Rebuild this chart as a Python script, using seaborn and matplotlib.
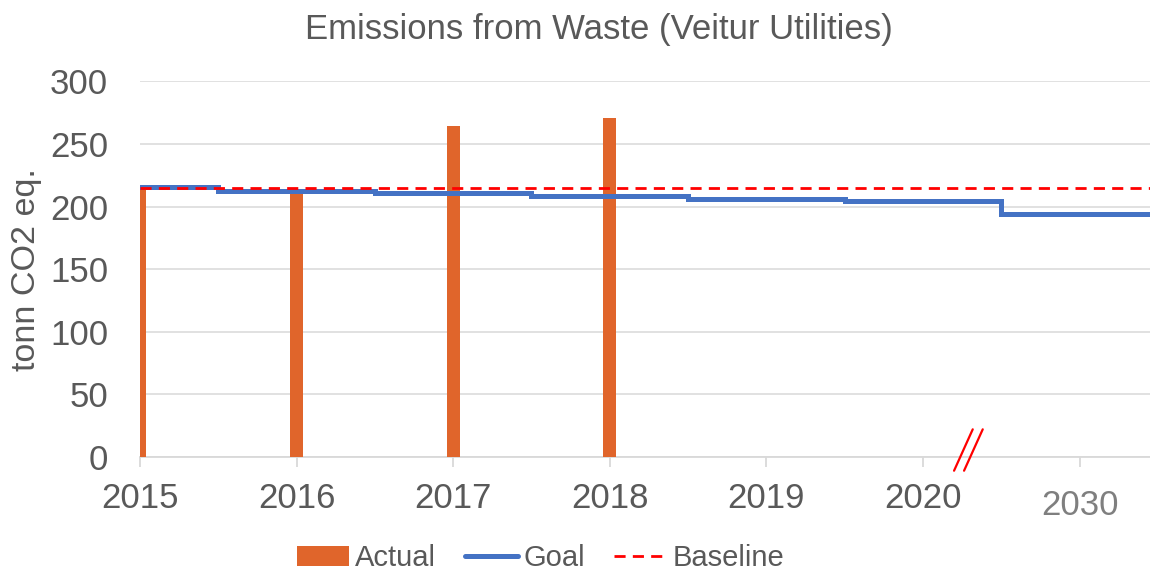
import matplotlib
matplotlib.use("Agg")
import matplotlib.pyplot as plt
from matplotlib.transforms import ScaledTranslation
from matplotlib.lines import Line2D
from matplotlib.patches import Patch
import seaborn as sns
import pandas as pd

# ---- data ----
years = [2015, 2016, 2017, 2018]
actual = [216, 210, 264, 271]
goal_x = [2015, 2015.5, 2016.5, 2017.5, 2018.5, 2019.5, 2020.5]
goal = [215.3, 212.7, 210.7, 208.6, 206.4, 204.2, 193.8]
baseline = 215
tick_pos = [2015, 2016, 2017, 2018, 2019, 2020, 2021]
tick_labels = ["2015", "2016", "2017", "2018", "2019", "2020", "2030"]
y_ticks = [0, 50, 100, 150, 200, 250, 300]

sns.set_theme(style="white")
plt.rcParams["font.family"] = ["Liberation Sans", "DejaVu Sans"]

TXT = "#595959"
GRID = "#d9d9d9"
ORANGE = "#e0652b"
BLUE = "#4472c4"
RED = "#ff0000"

fig = plt.figure(figsize=(11.5, 5.75), dpi=100)
ax = fig.add_axes([0.1217, 0.2052, 0.8783, 0.6532])

x_end = 2021.45
xmin = 2015

# bars
ax.bar(years, actual, width=0.083, color=ORANGE, zorder=2, linewidth=0)

# goal step line
gdf = pd.DataFrame({"x": goal_x + [x_end], "y": goal + [goal[-1]]})
sns.lineplot(data=gdf, x="x", y="y", ax=ax, color=BLUE, linewidth=3.6,
             drawstyle="steps-post", zorder=3, solid_joinstyle="miter")

# baseline
bdf = pd.DataFrame({"x": [xmin, x_end], "y": [baseline, baseline]})
sns.lineplot(data=bdf, x="x", y="y", ax=ax, color=RED, linewidth=2.0,
             zorder=4)
ax.lines[-1].set_dashes((4, 2.6))

ax.set_xlim(xmin, x_end)
ax.set_ylim(0, 300)
ax.set_yticks(y_ticks)
ax.set_xticks(tick_pos)
ax.set_xticklabels(tick_labels)

ax.grid(axis="y", color=GRID, linewidth=1.1, zorder=0)
ax.set_axisbelow(True)
for s in ["top", "right", "left"]:
    ax.spines[s].set_visible(False)
ax.spines["bottom"].set_color(GRID)
ax.spines["bottom"].set_linewidth(1.3)
ax.spines["bottom"].set_zorder(1)

ax.tick_params(axis="x", colors=GRID, labelcolor=TXT, labelsize=25,
               length=7, width=1.3, direction="out", pad=11, bottom=True)
ax.tick_params(axis="y", labelcolor=TXT, labelsize=25, length=0, pad=23)

# 2030 label lighter and slightly lower
lab = ax.get_xticklabels()[-1]
lab.set_color("#7f7f7f")
lab.set_transform(lab.get_transform() + ScaledTranslation(0, -5 / 72, fig.dpi_scale_trans))

ax.set_xlabel("")
ax.set_ylabel("tonn CO2 eq.", fontsize=24.5, color=TXT, labelpad=6)

# axis break marks
for dx in (0.0, 0.0099):
    ax.add_line(Line2D([0.806 + dx, 0.8245 + dx], [-0.0365, 0.0737],
                       transform=ax.transAxes, color=RED, linewidth=1.6,
                       clip_on=False, zorder=5))

fig.text(0.521, 0.948, "Emissions from Waste (Veitur Utilities)",
         ha="center", va="center", fontsize=25, color=TXT)

handles = [Patch(facecolor=ORANGE, edgecolor="none"),
           Line2D([0], [0], color=BLUE, linewidth=3.6, solid_capstyle="round"),
           Line2D([0], [0], color=RED, linewidth=2.0, dashes=(4, 2.6))]
leg = fig.legend(handles, ["Actual", "Goal", "Baseline"], loc="center",
                 bbox_to_anchor=(0.47, 0.029), ncol=3, frameon=False,
                 fontsize=21, handlelength=1.8, handleheight=0.65,
                 handletextpad=0.2, columnspacing=1.0, borderaxespad=0)
for t in leg.get_texts():
    t.set_color(TXT)

fig.savefig("out.png", dpi=100)
